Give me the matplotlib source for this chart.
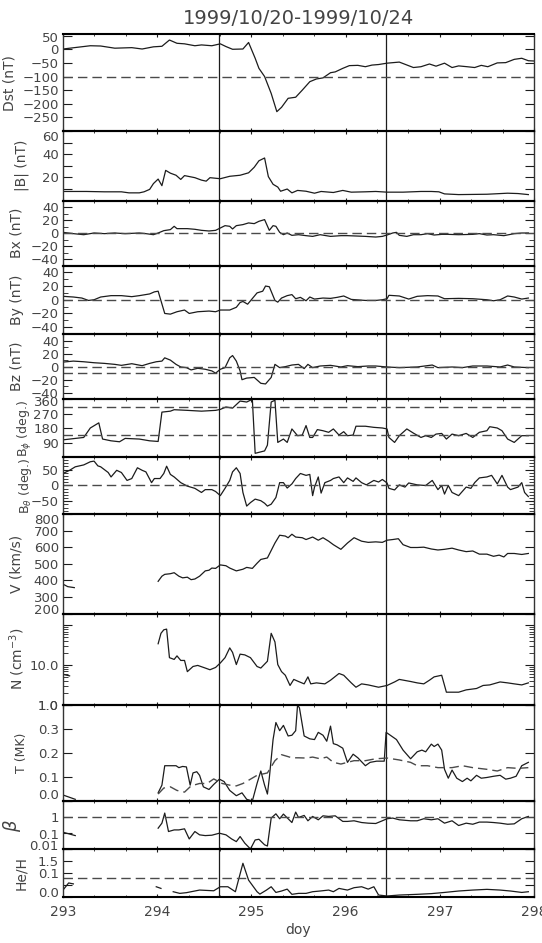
import numpy as np
import matplotlib
matplotlib.use("Agg")
import matplotlib.pyplot as plt
from matplotlib.ticker import FixedLocator, FixedFormatter, MultipleLocator, NullLocator
from matplotlib.transforms import ScaledTranslation

# ============================================
# Data (doy / value)
# ============================================

dst_doy = [293.00, 293.29, 293.40, 293.55, 293.73, 293.84, 293.96, 294.05, 294.13, 294.21,
           294.29, 294.40, 294.47, 294.58, 294.67, 294.73, 294.80, 294.91, 294.97, 295.04,
           295.08, 295.14, 295.21, 295.27, 295.32, 295.39, 295.47, 295.54, 295.62, 295.69,
           295.76, 295.84, 295.89, 295.97, 296.04, 296.13, 296.21, 296.28, 296.35, 296.44,
           296.57, 296.72, 296.80, 296.89, 296.96, 297.05, 297.13, 297.20, 297.29, 297.37,
           297.44, 297.51, 297.61, 297.70, 297.79, 297.87, 297.94, 298.00]
dst = [1, 13, 12, 4, 6, 1, 9, 11, 34, 22,
       20, 13, 16, 13, 20, 10, 0, 1, 25, -33,
       -70, -100, -162, -229, -213, -180, -176, -150, -119, -109,
       -105, -86, -83, -70, -60, -59, -64, -58, -56, -51,
       -47, -67, -64, -54, -62, -51, -67, -61, -64, -67,
       -59, -64, -50, -49, -37, -33, -42, -43]

bmag_doy = [293.00, 293.25, 293.44, 293.62, 293.70, 293.81, 293.86, 293.92, 293.96, 294.01,
            294.05, 294.09, 294.14, 294.20, 294.25, 294.29, 294.40, 294.47, 294.52, 294.56,
            294.67, 294.77, 294.88, 294.97, 295.03, 295.08, 295.14, 295.18, 295.23, 295.28,
            295.31, 295.38, 295.43, 295.49, 295.58, 295.67, 295.74, 295.87, 295.97, 296.06,
            296.21, 296.32, 296.44, 296.61, 296.80, 296.91, 296.99, 297.05, 297.20, 297.50,
            297.72, 297.83, 297.94]
bmag = [7.8, 7.8, 7.5, 7.5, 6.6, 6.6, 7.5, 9.6, 14.6, 18.5,
        12.8, 26, 23.6, 21.8, 18.2, 21.5, 19.7, 17.6, 16.7, 19.7,
        18.8, 20.9, 21.8, 23.9, 28.7, 34.3, 36.7, 20.6, 14, 11.6,
        8, 9.9, 6.6, 8.7, 8, 6.3, 7.8, 6.9, 8.7, 7.2,
        7.5, 7.8, 7.2, 7.2, 7.8, 7.8, 7.5, 5.7, 5.1, 5.4,
        6.3, 6, 5.1]

bx_doy = [293.00, 293.11, 293.22, 293.33, 293.44, 293.55, 293.66, 293.81, 293.88, 293.96,
          294.01, 294.07, 294.14, 294.18, 294.21, 294.32, 294.40, 294.47, 294.55, 294.62,
          294.67, 294.72, 294.77, 294.80, 294.84, 294.91, 294.97, 295.03, 295.08, 295.14,
          295.19, 295.23, 295.26, 295.30, 295.34, 295.38, 295.43, 295.50, 295.58, 295.65,
          295.73, 295.84, 295.95, 296.02, 296.21, 296.32, 296.39, 296.44, 296.50, 296.54,
          296.57, 296.65, 296.72, 296.80, 296.87, 296.94, 297.02, 297.09, 297.20, 297.35,
          297.42, 297.50, 297.57, 297.68, 297.79, 297.87, 297.94]
bx = [1, -1, -2.6, 0, -1, 0, -1, 0, -1, -2.6,
      0, 3.6, 5.2, 10.3, 6.7, 6.7, 5.7, 4.1, 3.1, 4.1,
      7.7, 11.3, 10.3, 6.2, 11.3, 12.9, 15.5, 14.4, 18, 20.6,
      4.1, 11.3, 10.3, 1, -2.6, 0, -3.6, -2.6, -4.1, -5.2,
      -2.6, -5.2, -4.1, -4.1, -5.2, -6.2, -5.2, -3.1, 0, 1,
      -3.6, -5.2, -2.6, -2.6, -1, -3.1, -2.1, -2.1, -2.6, -2.1,
      -1, -3.1, -2.6, -4.1, -1, 0, 0]

by_doy = [293.00, 293.11, 293.20, 293.27, 293.33, 293.40, 293.51, 293.62, 293.73, 293.81,
          293.92, 293.97, 294.01, 294.08, 294.14, 294.21, 294.29, 294.34, 294.43, 294.55,
          294.62, 294.67, 294.77, 294.84, 294.88, 294.91, 294.96, 295.06, 295.12, 295.15,
          295.19, 295.25, 295.28, 295.32, 295.38, 295.43, 295.47, 295.52, 295.58, 295.62,
          295.67, 295.76, 295.84, 295.91, 295.98, 296.06, 296.21, 296.32, 296.39, 296.44,
          296.46, 296.57, 296.67, 296.76, 296.87, 296.98, 297.05, 297.20, 297.35, 297.50,
          297.57, 297.64, 297.72, 297.79, 297.87, 297.94]
by = [5, 4, 2.5, -1, 0, 4, 6, 6, 4.5, 6,
      8.5, 11.5, 12.5, -20, -21, -17.5, -15, -20, -17.5, -16.5,
      -17.5, -15, -15, -11, -4, -2.5, -6.5, 10, 12.5, 20,
      19, -1, -3.5, 2.5, 6, 7.5, 1.5, 3.5, -1.5, 4,
      1, 2.5, 2, 3.5, 5.5, 0.5, -1, -1, 0, 1.5,
      6.5, 5.5, 1, 5, 6, 5.5, 1.5, 2, 1.5, 0,
      -1.5, 0, 5.5, 4, 1, 2.5]

bz_doy = [293.00, 293.11, 293.22, 293.33, 293.44, 293.55, 293.62, 293.73, 293.84, 293.92,
          293.99, 294.05, 294.08, 294.14, 294.20, 294.25, 294.31, 294.36, 294.43, 294.51,
          294.58, 294.62, 294.67, 294.72, 294.77, 294.80, 294.84, 294.88, 294.90, 294.95,
          295.03, 295.10, 295.15, 295.21, 295.25, 295.30, 295.36, 295.43, 295.50, 295.56,
          295.60, 295.65, 295.73, 295.84, 295.95, 296.02, 296.13, 296.24, 296.32, 296.44,
          296.57, 296.76, 296.92, 296.98, 297.13, 297.24, 297.35, 297.50, 297.64, 297.72,
          297.79, 297.94]
bz = [7, 8.5, 7.5, 6, 5, 3.5, 2, 4.5, 1.5, 5,
      7.5, 8.5, 13.5, 10, 3.5, -0.5, -1.5, -5, -2.5, -4,
      -6.5, -10, -4, -1.5, 13.5, 17, 8.5, -6.5, -20, -17.5,
      -16.5, -25.5, -26.5, -16.5, 3.5, -1.5, 0, 2.5, 3.5, -3,
      3.5, -1.5, 1, 2, -0.5, 1.5, 0, 1, 1, -0.5,
      -1.5, -0.5, 2.5, -1.5, -0.5, -1.5, 1, 1, -0.5, 2.5,
      -0.5, -1.5]

bphi_doy = [293.00, 293.22, 293.29, 293.38, 293.42, 293.51, 293.60, 293.66, 293.81, 293.92,
            294.01, 294.05, 294.14, 294.18, 294.32, 294.47, 294.62, 294.67, 294.73, 294.80,
            294.88, 294.95, 295.01, 295.04, 295.14, 295.17, 295.21, 295.25, 295.28, 295.34,
            295.38, 295.43, 295.49, 295.54, 295.58, 295.62, 295.65, 295.70, 295.76, 295.82,
            295.87, 295.93, 295.98, 296.02, 296.08, 296.11, 296.21, 296.30, 296.39, 296.44,
            296.46, 296.52, 296.57, 296.65, 296.72, 296.80, 296.85, 296.91, 296.96, 297.02,
            297.07, 297.13, 297.20, 297.28, 297.35, 297.42, 297.50, 297.53, 297.61, 297.66,
            297.72, 297.79, 297.87, 297.94]
bphi = [107, 122, 181, 213, 112, 101, 95, 116, 112, 101,
        97, 280, 286, 295, 291, 286, 291, 297, 312, 305,
        349, 343, 360, 23, 38, 74, 343, 354, 91, 112,
        91, 175, 133, 137, 196, 122, 122, 171, 164, 154,
        175, 137, 158, 133, 137, 192, 192, 185, 181, 175,
        122, 91, 133, 175, 149, 122, 133, 122, 143, 147,
        112, 143, 133, 147, 122, 154, 164, 189, 181, 164,
        112, 91, 133, 133]

btheta_doy = [293.00, 293.07, 293.13, 293.22, 293.29, 293.33, 293.37, 293.40, 293.48, 293.51,
              293.57, 293.62, 293.68, 293.73, 293.79, 293.84, 293.88, 293.94, 293.97, 294.03,
              294.07, 294.10, 294.14, 294.18, 294.25, 294.32, 294.40, 294.47, 294.51, 294.58,
              294.62, 294.67, 294.72, 294.77, 294.80, 294.84, 294.88, 294.91, 294.95, 294.99,
              295.04, 295.10, 295.14, 295.17, 295.21, 295.26, 295.30, 295.34, 295.38, 295.43,
              295.47, 295.52, 295.58, 295.62, 295.65, 295.67, 295.71, 295.74, 295.78, 295.84,
              295.87, 295.93, 295.98, 296.02, 296.08, 296.11, 296.17, 296.22, 296.26, 296.30,
              296.35, 296.39, 296.44, 296.46, 296.52, 296.57, 296.63, 296.67, 296.76, 296.85,
              296.92, 296.98, 297.02, 297.05, 297.09, 297.13, 297.20, 297.28, 297.33, 297.37,
              297.42, 297.50, 297.55, 297.61, 297.66, 297.72, 297.75, 297.83, 297.87, 297.90,
              297.94]
btheta = [38, 48, 59, 65, 75, 77, 62, 59, 41, 27,
          48, 41, 16, 22, 56, 48, 43, 9, 22, 22,
          38, 61, 35, 27, 9, -2, -9, -22, -13, -13,
          -19, -32, -9, 16, 43, 56, 38, -22, -65, -54,
          -43, -48, -56, -65, -59, -38, 9, 9, -8, 5,
          22, 38, 32, 35, -32, -5, 27, -24, 9, 16,
          22, 27, 9, 24, 13, 24, 9, 2, 9, 16,
          11, 19, 8, -9, -14, 2, -5, 8, 2, 0,
          16, -13, 0, -27, 0, -22, -32, -5, -9, 9,
          24, 27, 32, 5, 32, -5, -13, -5, 9, -22,
          -35]

v_pre_doy = [293.00, 293.05, 293.12]
v_pre = [377, 362, 356]
v_doy = [294.01, 294.05, 294.08, 294.14, 294.18, 294.23, 294.27, 294.32, 294.36, 294.40,
         294.45, 294.51, 294.55, 294.58, 294.62, 294.67, 294.73, 294.77, 294.84, 294.91,
         294.95, 295.01, 295.06, 295.10, 295.17, 295.25, 295.30, 295.36, 295.39, 295.43,
         295.47, 295.54, 295.58, 295.65, 295.71, 295.76, 295.82, 295.87, 295.95, 296.02,
         296.09, 296.17, 296.24, 296.32, 296.39, 296.44, 296.50, 296.56, 296.61, 296.69,
         296.76, 296.83, 296.91, 296.98, 297.05, 297.13, 297.20, 297.28, 297.35, 297.42,
         297.50, 297.57, 297.63, 297.68, 297.72, 297.79, 297.87, 297.94]
v = [394, 425, 436, 440, 446, 425, 415, 419, 404, 408,
     425, 457, 461, 474, 472, 493, 488, 474, 457, 467,
     478, 472, 503, 526, 535, 625, 672, 667, 657, 678,
     661, 657, 646, 661, 642, 657, 636, 615, 587, 625,
     657, 636, 629, 632, 629, 642, 646, 651, 615, 598,
     598, 600, 589, 583, 587, 594, 583, 573, 577, 558,
     558, 545, 552, 541, 562, 562, 556, 562]

n_pre_doy = [293.00, 293.07]
n_pre = [5.9, 5.4]
n_doy = [294.01, 294.04, 294.07, 294.10, 294.13, 294.18, 294.21, 294.25, 294.29, 294.32,
         294.38, 294.43, 294.51, 294.56, 294.62, 294.67, 294.72, 294.77, 294.80, 294.84,
         294.88, 294.93, 294.99, 295.06, 295.10, 295.17, 295.21, 295.25, 295.28, 295.32,
         295.36, 295.41, 295.45, 295.50, 295.56, 295.60, 295.63, 295.69, 295.78, 295.84,
         295.93, 295.98, 296.06, 296.11, 296.17, 296.24, 296.35, 296.44, 296.52, 296.57,
         296.69, 296.76, 296.83, 296.89, 296.94, 297.02, 297.07, 297.13, 297.20, 297.28,
         297.39, 297.46, 297.53, 297.64, 297.72, 297.79, 297.87, 297.94]
n = [34.7, 63.5, 77.8, 81, 15.5, 14, 17.2, 13.2, 13.2, 6.9,
     9.3, 9.9, 8.5, 7.7, 8.8, 11.4, 15.5, 27.3, 21, 10.4,
     19, 18.2, 15.5, 9.3, 8.5, 12.6, 63.5, 38.5, 10.4, 6.9,
     5.6, 3.1, 4.4, 3.9, 3.4, 5.1, 3.4, 3.6, 3.4, 4.2,
     6.2, 5.6, 3.6, 2.8, 3.4, 3.2, 2.8, 3.1, 3.8, 4.4,
     3.9, 3.6, 3.4, 4.2, 5.1, 5.6, 2.1, 2.1, 2.1, 2.4,
     2.6, 3.1, 3.2, 3.8, 3.6, 3.4, 3.2, 3.6]

t_pre_doy = [293.00, 293.13]
t_pre = [0.025, 0.007]
t_doy = [294.01, 294.05, 294.08, 294.14, 294.20, 294.23, 294.27, 294.31, 294.35, 294.38,
         294.42, 294.45, 294.49, 294.55, 294.60, 294.66, 294.71, 294.77, 294.84, 294.90,
         294.95, 295.01, 295.06, 295.10, 295.14, 295.17, 295.19, 295.23, 295.26, 295.30,
         295.34, 295.39, 295.43, 295.47, 295.49, 295.51, 295.56, 295.62, 295.67, 295.71,
         295.76, 295.80, 295.84, 295.87, 295.91, 295.97, 296.02, 296.08, 296.13, 296.21,
         296.26, 296.33, 296.41, 296.43, 296.46, 296.54, 296.61, 296.69, 296.76, 296.81,
         296.85, 296.91, 296.94, 296.98, 297.02, 297.05, 297.09, 297.13, 297.18, 297.24,
         297.29, 297.33, 297.39, 297.44, 297.50, 297.57, 297.64, 297.70, 297.75, 297.81,
         297.87, 297.94]
t = [0.034, 0.066, 0.147, 0.147, 0.147, 0.139, 0.144, 0.142, 0.066, 0.117,
     0.122, 0.107, 0.059, 0.048, 0.069, 0.091, 0.081, 0.044, 0.022, 0.034,
     0.007, 0.0, 0.073, 0.125, 0.066, 0.029, 0.095, 0.256, 0.489, 0.293,
     0.405, 0.271, 0.274, 0.293, 1.0, 0.917, 0.271, 0.259, 0.256, 0.286,
     0.274, 0.249, 0.384, 0.239, 0.234, 0.22, 0.161, 0.195, 0.18, 0.147,
     0.161, 0.166, 0.166, 0.286, 0.278, 0.256, 0.212, 0.176, 0.205, 0.212,
     0.205, 0.237, 0.227, 0.237, 0.212, 0.132, 0.095, 0.129, 0.095, 0.081,
     0.095, 0.084, 0.107, 0.095, 0.098, 0.103, 0.107, 0.091, 0.095, 0.103,
     0.147, 0.161]

texp_doy = [294.01, 294.07, 294.14, 294.21, 294.29, 294.36, 294.45, 294.53, 294.60, 294.69,
            294.77, 294.84, 294.91, 294.99, 295.06, 295.17, 295.25, 295.32, 295.38, 295.43,
            295.50, 295.58, 295.65, 295.73, 295.80, 295.87, 295.95, 296.02, 296.09, 296.21,
            296.32, 296.44, 296.57, 296.69, 296.76, 296.87, 296.98, 297.13, 297.24, 297.35,
            297.50, 297.61, 297.72, 297.83, 297.94]
texp = [0.029, 0.054, 0.059, 0.044, 0.037, 0.063, 0.073, 0.073, 0.092, 0.073,
        0.066, 0.063, 0.073, 0.091, 0.107, 0.117, 0.168, 0.193, 0.186, 0.18,
        0.18, 0.179, 0.183, 0.176, 0.183, 0.161, 0.154, 0.161, 0.168, 0.168,
        0.176, 0.179, 0.171, 0.161, 0.147, 0.147, 0.139, 0.139, 0.147, 0.139,
        0.132, 0.125, 0.139, 0.136, 0.139]

beta_pre_doy = [293.00, 293.13]
beta_pre = [0.115, 0.071]
beta_doy = [294.01, 294.05, 294.08, 294.12, 294.18, 294.23, 294.29, 294.34, 294.40, 294.45,
            294.51, 294.58, 294.66, 294.73, 294.79, 294.84, 294.88, 294.93, 294.99, 295.04,
            295.08, 295.14, 295.17, 295.21, 295.26, 295.30, 295.34, 295.39, 295.43, 295.47,
            295.50, 295.56, 295.60, 295.65, 295.71, 295.76, 295.82, 295.89, 295.97, 296.02,
            296.09, 296.17, 296.24, 296.32, 296.39, 296.44, 296.50, 296.57, 296.69, 296.76,
            296.83, 296.91, 296.98, 297.05, 297.13, 297.20, 297.28, 297.35, 297.42, 297.50,
            297.57, 297.64, 297.72, 297.79, 297.87, 297.94]
beta = [0.205, 0.42, 1.78, 0.127, 0.16, 0.16, 0.187, 0.044, 0.127, 0.079,
        0.071, 0.075, 0.1, 0.079, 0.044, 0.030, 0.062, 0.024, 0.0105, 0.038,
        0.042, 0.019, 0.016, 0.87, 1.6, 0.79, 1.54, 0.79, 0.46, 2.05,
        0.95, 1.27, 0.59, 1.1, 0.68, 1.2, 1.1, 1.2, 0.54, 0.54,
        0.59, 0.46, 0.42, 0.40, 0.59, 0.79, 0.87, 0.68, 0.59, 0.59,
        0.79, 0.68, 0.79, 0.42, 0.59, 0.30, 0.42, 0.36, 0.49, 0.49,
        0.46, 0.42, 0.36, 0.38, 0.79, 1.1]

heh_pre_doy = [293.00, 293.06, 293.11]
heh_pre = [0.028, 0.058, 0.054]
heh_mid_doy = [293.99, 294.04]
heh_mid = [0.042, 0.035]
heh_doy = [294.17, 294.24, 294.31, 294.45, 294.60, 294.67, 294.75, 294.83, 294.91, 294.97,
           295.06, 295.09, 295.16, 295.21, 295.26, 295.32, 295.38, 295.43, 295.50, 295.58,
           295.65, 295.73, 295.82, 295.87, 295.93, 295.98, 296.02, 296.09, 296.17, 296.24,
           296.30, 296.35, 296.44, 296.57, 296.76, 296.91, 297.05, 297.20, 297.35, 297.50,
           297.64, 297.75, 297.87, 297.94]
heh = [0.021, 0.014, 0.017, 0.028, 0.025, 0.042, 0.042, 0.021, 0.141, 0.07,
       0.021, 0.011, 0.028, 0.042, 0.018, 0.024, 0.032, 0.01, 0.014, 0.014,
       0.021, 0.024, 0.028, 0.021, 0.035, 0.031, 0.028, 0.038, 0.042, 0.032,
       0.042, 0.007, 0.003, 0.007, 0.01, 0.013, 0.018, 0.024, 0.028, 0.031,
       0.028, 0.024, 0.018, 0.021]

event_doy = [294.66, 296.43]
title = "1999/10/20-1999/10/24"

# ============================================
# Figure / styling
# ============================================

W, H = 542, 943
plt.rcParams["font.family"] = "DejaVu Sans"
fig = plt.figure(figsize=(W / 100, H / 100), dpi=100)

TXT = "#444444"
LINE = "#1c1c1c"
DASH = "#4a4a4a"
DASHES = (0, (6.8, 3.6))
TICK_FS = 9.5
X0, X1 = 63, 534


def make_panel(top, bot):
    ax = fig.add_axes([X0 / W, 1 - bot / H, (X1 - X0) / W, (bot - top) / H])
    ax.set_xlim(293, 298)
    ax.xaxis.set_major_locator(MultipleLocator(1))
    ax.xaxis.set_minor_locator(MultipleLocator(1 / 3))
    ax.tick_params(axis="x", which="both", direction="in", top=True, bottom=True,
                   labelbottom=False, color=LINE)
    ax.tick_params(axis="x", which="major", length=2.2, width=0.8)
    ax.tick_params(axis="x", which="minor", length=1.4, width=0.6)
    ax.tick_params(axis="y", which="both", direction="in", left=True, right=True,
                   labelsize=TICK_FS, labelcolor=TXT, pad=3, color=LINE)
    ax.tick_params(axis="y", which="major", length=6.5, width=0.8)
    ax.tick_params(axis="y", which="minor", length=3.5, width=0.6)
    for s in ("top", "bottom"):
        ax.spines[s].set_linewidth(1.5)
        ax.spines[s].set_color("black")
    for s in ("left", "right"):
        ax.spines[s].set_linewidth(1.0)
        ax.spines[s].set_color("#333333")
    ax.patch.set_alpha(0)
    for xv in event_doy:
        ax.axvline(xv, color=LINE, lw=0.9)
    return ax


def set_y(ax, lo, hi, ticks, labels, minor=None):
    ax.set_ylim(lo, hi)
    ax.yaxis.set_major_locator(FixedLocator(ticks))
    ax.yaxis.set_major_formatter(FixedFormatter(labels))
    if minor is None:
        ax.yaxis.set_minor_locator(NullLocator())
    else:
        ax.yaxis.set_minor_locator(FixedLocator(minor))


def nudge(ax, idx, dy_px):
    lab = ax.get_yticklabels()[idx]
    lab.set_transform(lab.get_transform()
                      + ScaledTranslation(0, -dy_px / 100, fig.dpi_scale_trans))


def ylabel(ax, text, x_px, size=10):
    pos = ax.get_position()
    fig.text(x_px / W, pos.y0 + pos.height / 2, text, rotation=90, ha="center",
             va="center", fontsize=size, color=TXT)


def curve(ax, x, y, dashed=False):
    if dashed:
        ax.plot(x, y, color=DASH, lw=1.0, linestyle=DASHES)
    else:
        ax.plot(x, y, color=LINE, lw=0.9)


def hline(ax, y):
    ax.axhline(y, color=DASH, lw=1.0, linestyle=DASHES)


# ============================================
# Panels
# ============================================

ax = make_panel(34.3, 131)
curve(ax, dst_doy, dst)
hline(ax, -100)
set_y(ax, -300, 55, [50, 0, -50, -100, -150, -200, -250],
      ["50", "0", "−50", "−100", "−150", "−200", "−250"])
nudge(ax, 0, 1.5)
ylabel(ax, "Dst (nT)", 10)

ax = make_panel(131, 200.5)
curve(ax, bmag_doy, bmag)
set_y(ax, 0, 60, [10, 20, 30, 40, 50, 60], ["", "20", "", "40", "", "60"])
nudge(ax, 5, 5)
ylabel(ax, "|B| (nT)", 22)

for (top, bot, xd, yd, name) in [(200.5, 265.5, bx_doy, bx, "Bx (nT)"),
                                  (265.5, 334, by_doy, by, "By (nT)"),
                                  (334, 399.3, bz_doy, bz, "Bz (nT)")]:
    ax = make_panel(top, bot)
    curve(ax, xd, yd)
    hline(ax, 0)
    if name.startswith("Bz"):
        hline(ax, -10)
    set_y(ax, -50, 50, [-40, -20, 0, 20, 40], ["−40", "−20", "0", "20", "40"],
          minor=[-30, -10, 10, 30])
    ylabel(ax, name, 17)

ax = make_panel(399.3, 457)
curve(ax, bphi_doy, bphi)
hline(ax, 135)
hline(ax, 315)
set_y(ax, 0, 360, [90, 180, 270, 360], ["90", "180", "270", "360"])
nudge(ax, 3, 2)
ylabel(ax, r"B$_{\phi}$ (deg.)", 25, size=9)

ax = make_panel(457, 514)
curve(ax, btheta_doy, btheta)
hline(ax, 0)
set_y(ax, -90, 90, [-50, 0, 50], ["−50", "0", "50"],
      minor=[-80, -70, -60, -40, -30, -20, -10, 10, 20, 30, 40, 60, 70, 80])
ylabel(ax, r"B$_{\theta}$ (deg.)", 25, size=9)

ax = make_panel(514, 613.5)
curve(ax, v_pre_doy, v_pre)
curve(ax, v_doy, v)
set_y(ax, 200, 800, [200, 300, 400, 500, 600, 700, 800],
      ["200", "300", "400", "500", "600", "700", "800"])
nudge(ax, 0, -4)
nudge(ax, 6, 5)
ylabel(ax, "V (km/s)", 17)

ax = make_panel(613.5, 705)
ax.set_yscale("log")
curve(ax, n_pre_doy, n_pre)
curve(ax, n_doy, n)
set_y(ax, 1, 200, [1, 10, 100], ["1.0", "10.0", ""],
      minor=[2, 3, 4, 5, 6, 7, 8, 9, 20, 30, 40, 50, 60, 70, 80, 90, 200])
ylabel(ax, r"N (cm$^{-3}$)", 17)

t_knots = [0.0, 0.1, 0.2, 0.3, 1.0]
t_pos = [0, 1, 2, 3, 4]
ax = make_panel(705, 801)
ax.set_yscale("function", functions=(lambda val: np.interp(val, t_knots, t_pos),
                                     lambda u: np.interp(u, t_pos, t_knots)))
curve(ax, t_pre_doy, t_pre)
curve(ax, t_doy, t)
curve(ax, texp_doy, texp, dashed=True)
set_y(ax, 0.0, 1.0, [0.0, 0.1, 0.2, 0.3, 1.0], ["0.0", "0.1", "0.2", "0.3", "1.0"])
nudge(ax, 0, -7)
ylabel(ax, "T (MK)", 21, size=9)

ax = make_panel(801, 849.3)
ax.set_yscale("log")
curve(ax, beta_pre_doy, beta_pre)
curve(ax, beta_doy, beta)
hline(ax, 1)
set_y(ax, 0.01, 10, [0.01, 0.1, 1, 10], ["0.01", "0.1", "1", ""])
nudge(ax, 0, -4)
nudge(ax, 1, 1)
ylabel(ax, r"$\beta$", 12, size=13)

ax = make_panel(849.3, 896.7)
curve(ax, heh_pre_doy, heh_pre)
curve(ax, heh_mid_doy, heh_mid)
curve(ax, heh_doy, heh)
hline(ax, 0.08)
set_y(ax, 0.0, 0.2, [0.0, 0.05, 0.1, 0.15, 0.2], ["0.0", "", "0.1", "1.5", ""])
nudge(ax, 0, -4.5)
ax.set_xticks([293, 294, 295, 296, 297, 298])
ax.set_xticklabels(["293", "294", "295", "296", "297", "298"])
ax.tick_params(axis="x", which="major", labelbottom=True, labelsize=10,
               labelcolor=TXT, pad=6)
ylabel(ax, "He/H", 21)
ax.set_xlabel("doy", fontsize=10, color=TXT, labelpad=3)

fig.text((X0 + X1) / 2 / W, 1 - 18 / H, title, ha="center", va="center",
         fontsize=14, color=TXT)

plt.savefig("out.png", dpi=100)
